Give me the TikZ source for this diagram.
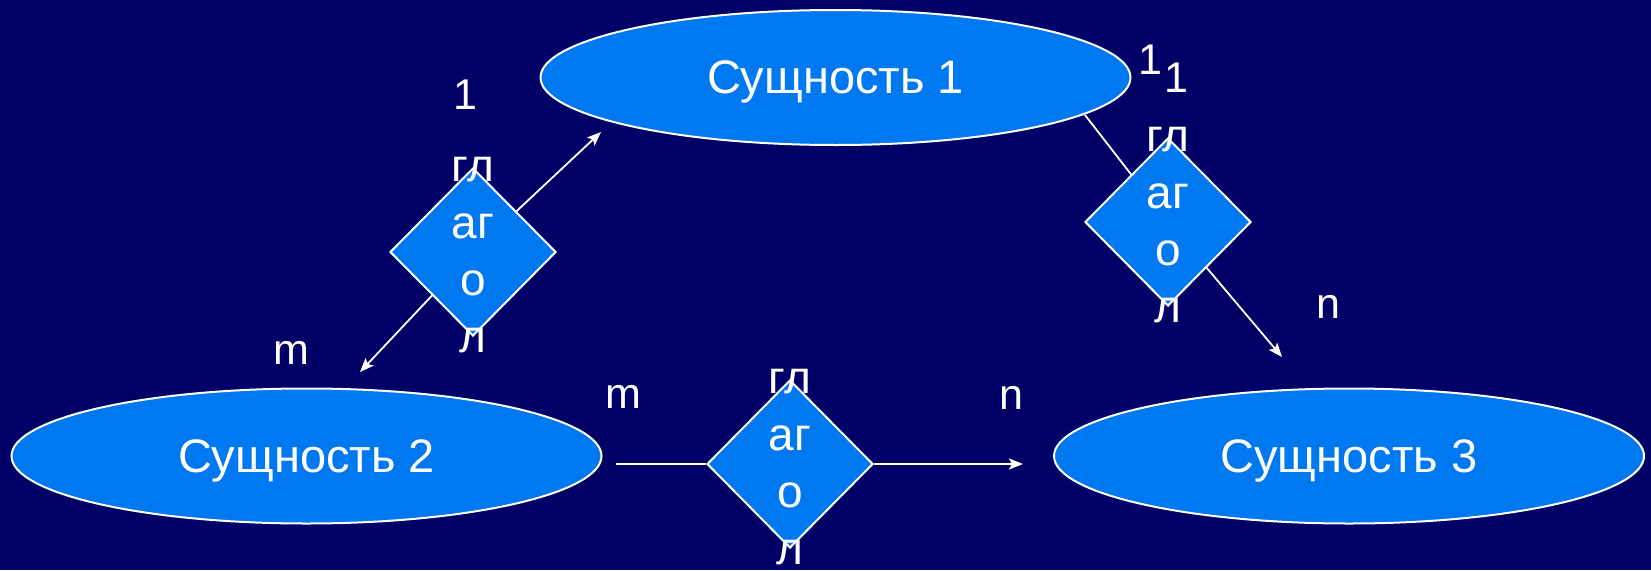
\documentclass[tikz,border=0pt]{standalone}
\usepackage{fontspec}
\setmainfont{Liberation Sans}
\usetikzlibrary{shapes.geometric,arrows.meta}
\definecolor{bgnavy}{RGB}{0,0,102}
\definecolor{entblue}{RGB}{0,120,240}
\begin{document}
\begin{tikzpicture}[x=1pt,y=-1pt,
  entity/.style={ellipse, draw=white, line width=2pt, fill=entblue,
    minimum width=590pt, minimum height=135pt, inner sep=0pt, text=white,
    font=\fontsize{47}{56}\selectfont, text depth=0pt},
  relbox/.style={diamond, draw=white, line width=2pt, fill=entblue,
    minimum width=166pt, minimum height=168pt, inner sep=0pt},
  reltext/.style={text=white, align=center, inner sep=0pt,
    font=\fontsize{46}{57}\selectfont},
  card/.style={text=white, inner sep=0pt, font=\fontsize{43}{50}\selectfont},
  conn/.style={draw=white, line width=1.8pt},
  arr/.style={conn, -{Stealth[length=14pt,width=11pt,inset=3pt]}}
]
\fill[bgnavy] (0,0) rectangle (1651,570);
\useasboundingbox (0,0) rectangle (1651,570);

% entities
\node[entity] (e1) at (835.5,77.5) {Сущность 1};
\node[entity] (e2) at (306.5,456) {Сущность 2};
\node[entity] (e3) at (1349,456) {Сущность 3};

% relationships
\node[relbox] (d1) at (473,252) {};
\node[relbox] (d2) at (1168,222) {};
\node[relbox] (d3) at (790,464) {};

% connector free ends
\coordinate (a1) at (601,132);
\coordinate (a4) at (360,372);
\coordinate (s2) at (1085,115);
\coordinate (a2) at (1282,357);
\coordinate (s3) at (616,464);
\coordinate (a3) at (1023,464);

% connectors
\draw[arr] (d1) -- (a1);
\draw[arr] (d1) -- (a4);
\draw[conn] (s2) -- (d2);
\draw[arr] (d2) -- (a2);
\draw[conn] (s3) -- (d3);
\draw[arr] (d3) -- (a3);

% relationship texts
\node[reltext] (t1) at (473,255) {гл\\аг\\о\\л};
\node[reltext] (t2) at (1168,225) {гл\\аг\\о\\л};
\node[reltext] (t3) at (790,467) {гл\\аг\\о\\л};

% cardinalities
\node[card] (l1) at (465,95) {1};
\node[card] (l2) at (1150,60) {1};
\node[card] (l3) at (1176,78) {1};
\node[card] (l4) at (291,353) {m};
\node[card] (l5) at (623,397) {m};
\node[card] (l6) at (1011,398) {n};
\node[card] (l7) at (1328,307) {n};
\end{tikzpicture}
\end{document}
